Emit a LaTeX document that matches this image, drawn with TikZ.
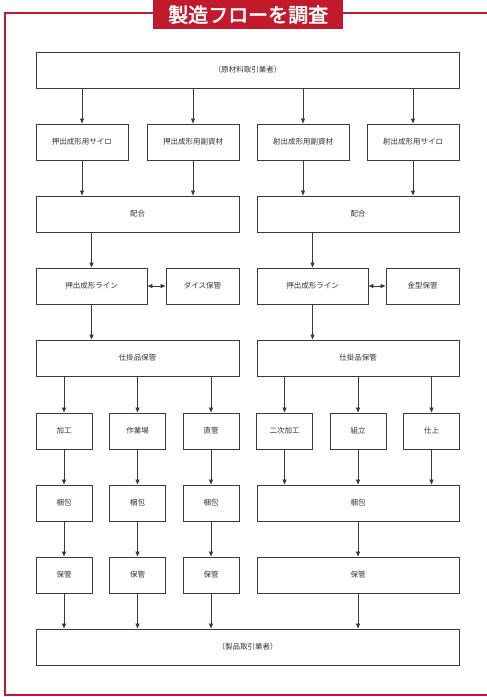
\documentclass[tikz,border=0pt]{standalone}
\usepackage{fontspec}
\setmainfont{Noto Sans CJK JP}
\newfontfamily\titlefont{Noto Sans CJK JP}[FakeBold=2.5]
\usetikzlibrary{arrows.meta}
\definecolor{framered}{HTML}{C3192D}
\definecolor{boxline}{HTML}{3A3A3A}
\definecolor{txt}{HTML}{333333}
\tikzset{
  bx/.style={draw=boxline, line width=0.9pt, fill=white, minimum height=36pt, inner sep=0pt, text=txt, font=\fontsize{7.5}{9}\selectfont},
  flow/.style={draw=boxline, line width=0.8pt, -{Triangle[length=5pt,width=4pt]}},
  biflow/.style={draw=boxline, line width=0.8pt, {Triangle[length=5pt,width=4pt]}-{Triangle[length=5pt,width=4pt]}}
}
\begin{document}
\begin{tikzpicture}[x=1pt,y=-1pt]
\useasboundingbox (0,0) rectangle (487,697);
\clip (0,0) rectangle (487,697);
% frame
\draw[framered, line width=2pt] (5,13) rectangle (495,695);
\node[fill=framered, text=white, minimum width=190pt, minimum height=29pt, inner sep=0pt, anchor=north west, font=\titlefont\fontsize{20}{22}\selectfont] (title) at (153,0) {製造フローを調査};
% top
\node[bx, minimum width=423pt] (src) at (247.5,70) {（原材料取引業者）};
% row 2
\node[bx, minimum width=92pt] (a1) at (82,142) {押出成形用サイロ};
\node[bx, minimum width=92pt] (a2) at (193,142) {押出成形用副資材};
\node[bx, minimum width=92pt] (a3) at (303,142) {射出成形用副資材};
\node[bx, minimum width=92pt] (a4) at (413,142) {射出成形用サイロ};
% row 3
\node[bx, minimum width=203pt] (mixL) at (137.5,214) {配合};
\node[bx, minimum width=202pt] (mixR) at (358,214) {配合};
% row 4
\node[bx, minimum width=111pt] (lineL) at (91.5,286) {押出成形ライン};
\node[bx, minimum width=73pt] (die) at (202.5,286) {ダイス保管};
\node[bx, minimum width=111pt] (lineR) at (312.5,286) {押出成形ライン};
\node[bx, minimum width=73pt] (mold) at (422.5,286) {金型保管};
% row 5
\node[bx, minimum width=203pt] (wipL) at (137.5,358) {仕掛品保管};
\node[bx, minimum width=202pt] (wipR) at (358,358) {仕掛品保管};
% row 6
\node[bx, minimum width=56pt] (p1) at (64,431) {加工};
\node[bx, minimum width=56pt] (p2) at (137.5,431) {作業場};
\node[bx, minimum width=56pt] (p3) at (211,431) {直管};
\node[bx, minimum width=56pt] (p4) at (284.5,431) {二次加工};
\node[bx, minimum width=56pt] (p5) at (358,431) {組立};
\node[bx, minimum width=56pt] (p6) at (431.5,431) {仕上};
% row 7
\node[bx, minimum width=56pt] (k1) at (64,503) {梱包};
\node[bx, minimum width=56pt] (k2) at (137.5,503) {梱包};
\node[bx, minimum width=56pt] (k3) at (211,503) {梱包};
\node[bx, minimum width=202pt] (kR) at (358,503) {梱包};
% row 8
\node[bx, minimum width=56pt] (s1) at (64,575) {保管};
\node[bx, minimum width=56pt] (s2) at (137.5,575) {保管};
\node[bx, minimum width=56pt] (s3) at (211,575) {保管};
\node[bx, minimum width=202pt] (sR) at (358,575) {保管};
% bottom
\node[bx, minimum width=423pt] (dst) at (247.5,647) {（製品取引業者）};
% arrows
\foreach \n in {a1,a2,a3,a4} \draw[flow] (\n |- src.south) -- (\n.north);
\foreach \n in {a1,a2} \draw[flow] (\n.south) -- (\n |- mixL.north);
\foreach \n in {a3,a4} \draw[flow] (\n.south) -- (\n |- mixR.north);
\draw[flow] (lineL |- mixL.south) -- (lineL.north);
\draw[flow] (lineR |- mixR.south) -- (lineR.north);
\draw[biflow] (lineL.east) -- (die.west);
\draw[biflow] (lineR.east) -- (mold.west);
\draw[flow] (lineL.south) -- (lineL |- wipL.north);
\draw[flow] (lineR.south) -- (lineR |- wipR.north);
\foreach \n in {p1,p2,p3} \draw[flow] (\n |- wipL.south) -- (\n.north);
\foreach \n in {p4,p5,p6} \draw[flow] (\n |- wipR.south) -- (\n.north);
\draw[flow] (p1.south) -- (k1.north);
\draw[flow] (p2.south) -- (k2.north);
\draw[flow] (p3.south) -- (k3.north);
\foreach \n in {p4,p5,p6} \draw[flow] (\n.south) -- (\n |- kR.north);
\draw[flow] (k1.south) -- (s1.north);
\draw[flow] (k2.south) -- (s2.north);
\draw[flow] (k3.south) -- (s3.north);
\draw[flow] (kR.south) -- (sR.north);
\foreach \n in {s1,s2,s3,sR} \draw[flow] (\n.south) -- (\n |- dst.north);
\end{tikzpicture}
\end{document}
